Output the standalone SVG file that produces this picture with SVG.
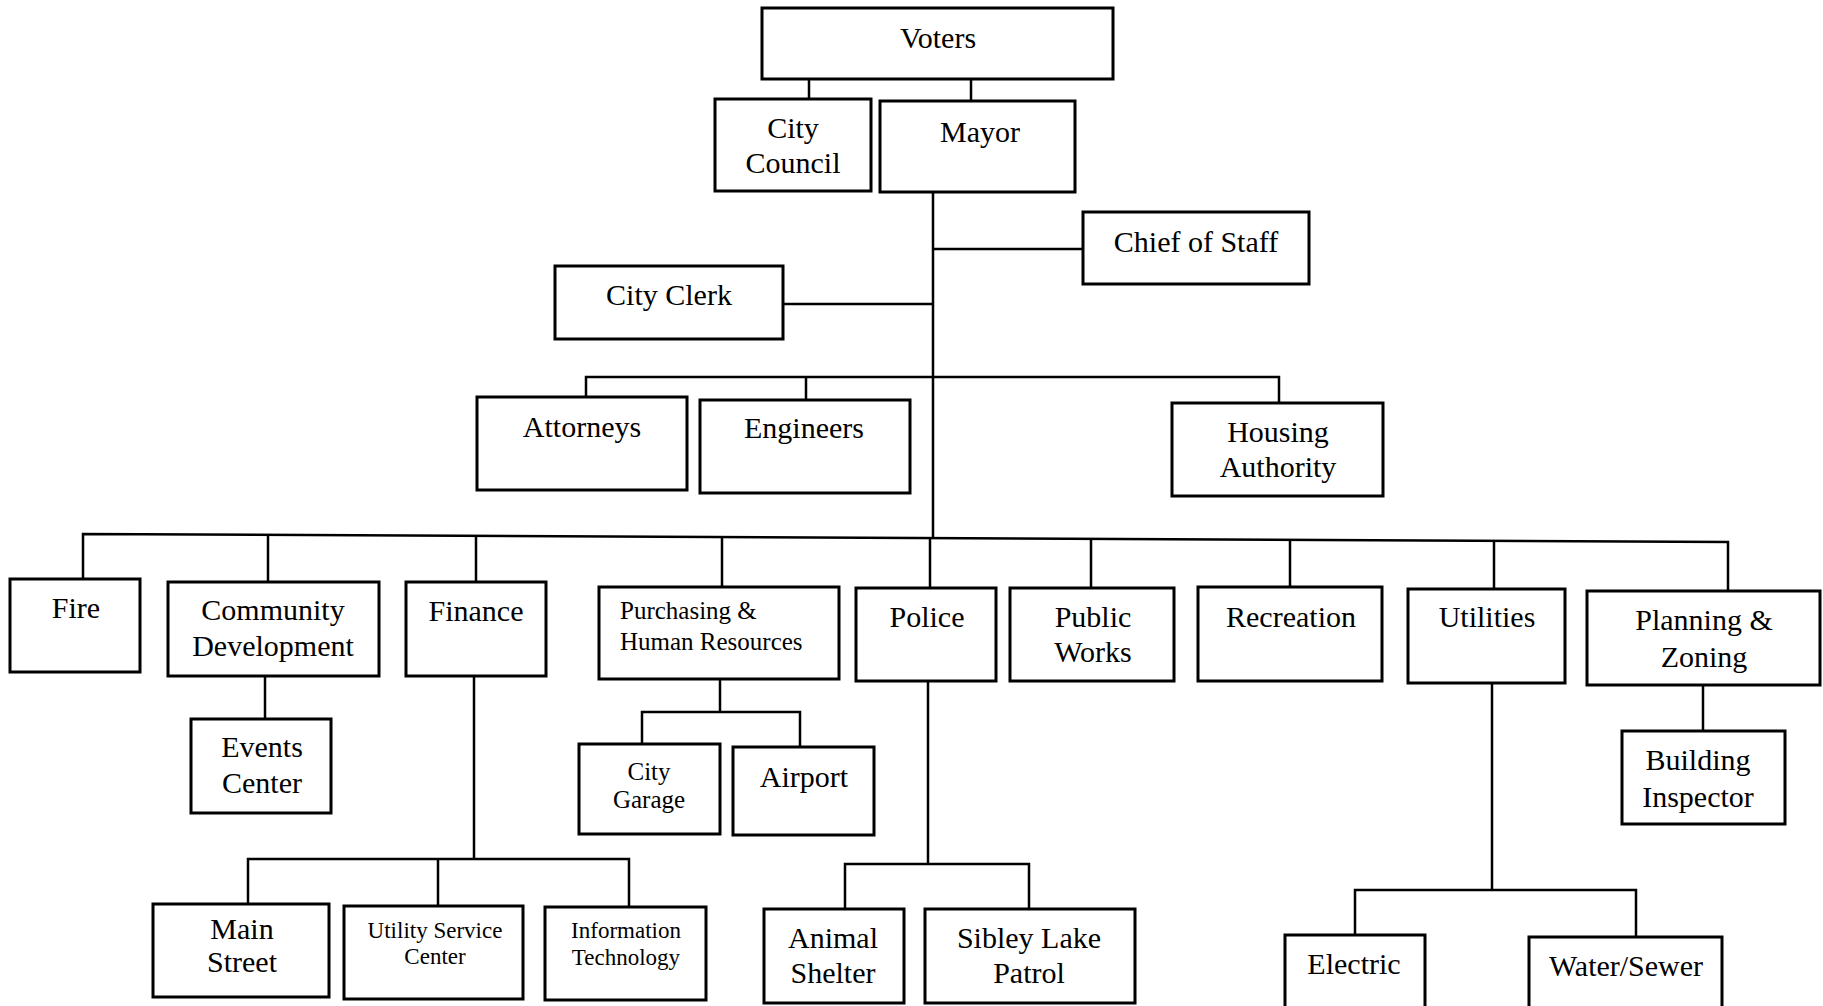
<svg xmlns="http://www.w3.org/2000/svg" width="1823" height="1006" viewBox="0 0 1823 1006">
<style>
rect{fill:#fff;stroke:#000;stroke-width:3}
.c path{fill:none;stroke:#000;stroke-width:2.5}
text{font-family:"Liberation Serif","Times New Roman",serif;font-size:30px;fill:#000;text-anchor:middle}
.s{font-size:25px}
.xs{font-size:23px}
</style>
<rect x="0" y="0" width="1823" height="1006" style="stroke:none"/>
<g class="c" id="connectors">
<path d="M809,79V99M971,79V101"/>
<path d="M933,192V538"/>
<path d="M933,249H1083M783,304H933"/>
<path d="M586,397V377H1279V403M806,377V400"/>
<path d="M83,579V534L1728,542V591"/>
<path d="M268,536V582M476,536V582M722,537V587M930,538V588M1091,539V588M1290,540V587M1494,541V589"/>
<path d="M265,676V719"/>
<path d="M720,679V712M642,744V712H800V747"/>
<path d="M1703,685V731"/>
<path d="M474,676V859M248,904V859H629V907M438,859V906"/>
<path d="M928,681V864M845,909V864H1029V909"/>
<path d="M1492,683V890M1355,935V890H1636V937"/>
</g>
<g id="voters"><rect x="762" y="8" width="351" height="71"/><text x="938" y="48">Voters</text></g>
<g id="council"><rect x="715" y="99" width="156" height="92"/><text x="793" y="138">City</text><text x="793" y="173">Council</text></g>
<g id="mayor"><rect x="880" y="101" width="195" height="91"/><text x="980" y="142">Mayor</text></g>
<g id="chief"><rect x="1083" y="212" width="226" height="72"/><text x="1196" y="252">Chief of Staff</text></g>
<g id="clerk"><rect x="555" y="266" width="228" height="73"/><text x="669" y="305">City Clerk</text></g>
<g id="attorneys"><rect x="477" y="397" width="210" height="93"/><text x="582" y="437">Attorneys</text></g>
<g id="engineers"><rect x="700" y="400" width="210" height="93"/><text x="804" y="438">Engineers</text></g>
<g id="housing"><rect x="1172" y="403" width="211" height="93"/><text x="1278" y="442">Housing</text><text x="1278" y="477">Authority</text></g>
<g id="fire"><rect x="10" y="579" width="130" height="93"/><text x="76" y="618">Fire</text></g>
<g id="cd"><rect x="168" y="582" width="211" height="94"/><text x="273" y="620">Community</text><text x="273" y="656">Development</text></g>
<g id="finance"><rect x="406" y="582" width="140" height="94"/><text x="476" y="621">Finance</text></g>
<g id="purchasing"><rect x="599" y="587" width="240" height="92"/><text class="s" x="620" y="619" style="text-anchor:start">Purchasing &amp;</text><text class="s" x="620" y="650" style="text-anchor:start">Human Resources</text></g>
<g id="police"><rect x="856" y="588" width="140" height="93"/><text x="927" y="627">Police</text></g>
<g id="publicworks"><rect x="1010" y="588" width="164" height="93"/><text x="1093" y="627">Public</text><text x="1093" y="662">Works</text></g>
<g id="recreation"><rect x="1198" y="587" width="184" height="94"/><text x="1291" y="627">Recreation</text></g>
<g id="utilities"><rect x="1408" y="589" width="157" height="94"/><text x="1487" y="627">Utilities</text></g>
<g id="planning"><rect x="1587" y="591" width="233" height="94"/><text x="1704" y="630">Planning &amp;</text><text x="1704" y="667">Zoning</text></g>
<g id="events"><rect x="191" y="719" width="140" height="94"/><text x="262" y="757">Events</text><text x="262" y="793">Center</text></g>
<g id="garage"><rect x="579" y="744" width="141" height="90"/><text class="s" x="649" y="780">City</text><text class="s" x="649" y="808">Garage</text></g>
<g id="airport"><rect x="733" y="747" width="141" height="88"/><text x="804" y="787">Airport</text></g>
<g id="inspector"><rect x="1622" y="731" width="163" height="93"/><text x="1698" y="770">Building</text><text x="1698" y="807">Inspector</text></g>
<g id="mainstreet"><rect x="153" y="904" width="176" height="93"/><text x="242" y="939">Main</text><text x="242" y="972">Street</text></g>
<g id="usc"><rect x="344" y="906" width="179" height="93"/><text class="xs" x="435" y="938">Utility Service</text><text class="xs" x="435" y="964">Center</text></g>
<g id="it"><rect x="545" y="907" width="161" height="93"/><text class="xs" x="626" y="938">Information</text><text class="xs" x="626" y="965">Technology</text></g>
<g id="animal"><rect x="764" y="909" width="140" height="94"/><text x="833" y="948">Animal</text><text x="833" y="983">Shelter</text></g>
<g id="sibley"><rect x="925" y="909" width="210" height="94"/><text x="1029" y="948">Sibley Lake</text><text x="1029" y="983">Patrol</text></g>
<g id="electric"><rect x="1285" y="935" width="140" height="80"/><text x="1354" y="974">Electric</text></g>
<g id="water"><rect x="1529" y="937" width="193" height="80"/><text x="1626" y="976">Water/Sewer</text></g>
</svg>
